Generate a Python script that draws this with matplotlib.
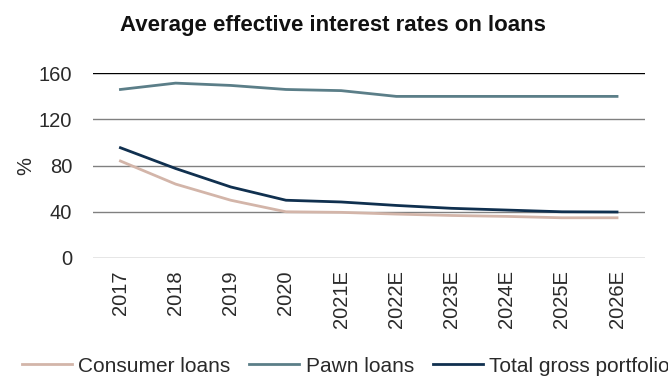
import matplotlib.pyplot as plt

plt.rcParams['font.family'] = ['Liberation Sans', 'DejaVu Sans']

years = ['2017', '2018', '2019', '2020', '2021E', '2022E', '2023E', '2024E', '2025E', '2026E']
consumer = [84, 64, 50, 40, 39.5, 38, 36.8, 36, 34.8, 34.8]
pawn = [146, 151.5, 149.5, 146, 145, 140, 140, 140, 140, 140]
total = [95.5, 77.5, 61.5, 50, 48.5, 45.5, 43, 41.5, 40, 39.8]

fig = plt.figure(figsize=(6.68, 3.76), dpi=100)
ax = fig.add_axes([0.139, 0.314, 0.826, 0.491])

x = range(len(years))
ax.plot(x, consumer, color='#D3B5A9', lw=2, label='Consumer loans')
ax.plot(x, pawn, color='#5B7E88', lw=2, label='Pawn loans')
ax.plot(x, total, color='#10304F', lw=2, label='Total gross portfolio')

ax.set_ylim(0, 160)
ax.set_yticks([0, 40, 80, 120, 160])
ax.set_xlim(-0.5, len(years) - 0.5)
ax.set_xticks(list(x))
ax.set_xticklabels(years, rotation=90)
ax.tick_params(length=0, labelsize=14.5, colors='#2a2a2a')
ax.tick_params(axis='y', pad=15)
ax.tick_params(axis='x', pad=9)
for s in ax.spines.values():
    s.set_visible(False)
for v in [0, 40, 80, 120]:
    ax.axhline(v, color='#808080', lw=1, zorder=0)
ax.axhline(160, color='black', lw=1, zorder=0)

ax.set_ylabel('%', fontsize=14.5, color='#2a2a2a')
ax.yaxis.set_label_coords(-0.105, 0.5)
fig.text(0.499, 1 - 31 / 376, 'Average effective interest rates on loans', ha='center',
         va='baseline', fontsize=16, fontweight='bold', color='#111111')
leg = fig.legend(loc='center left', bbox_to_anchor=(0.033, 1 - 366 / 376), ncol=3,
                 frameon=False, fontsize=15, handlelength=2.4, columnspacing=0.9,
                 handletextpad=0.3, borderaxespad=0, borderpad=0)
for t in leg.get_texts():
    t.set_color('#2a2a2a')

fig.savefig('out.png', dpi=100)
